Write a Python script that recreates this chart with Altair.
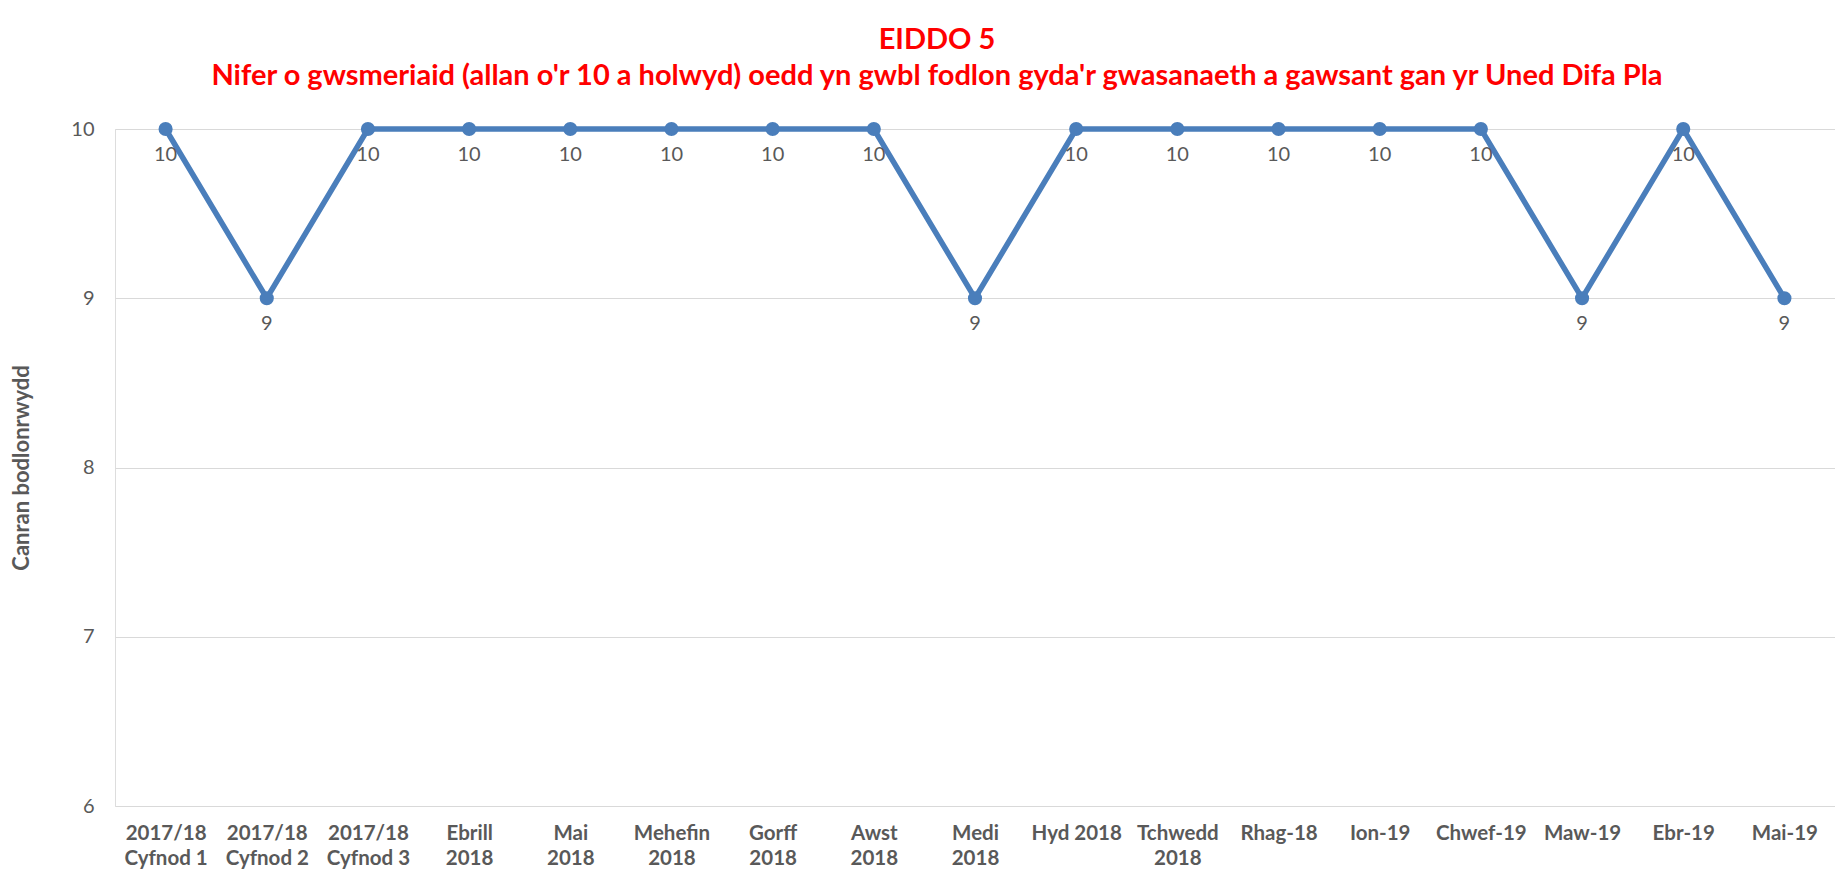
import altair as alt
import pandas as pd

categories = ["2017/18|Cyfnod 1", "2017/18|Cyfnod 2", "2017/18|Cyfnod 3", "Ebrill|2018",
              "Mai|2018", "Mehefin|2018", "Gorff|2018", "Awst|2018", "Medi|2018",
              "Hyd 2018", "Tchwedd|2018", "Rhag-18", "Ion-19", "Chwef-19", "Maw-19",
              "Ebr-19", "Mai-19"]
values = [10, 9, 10, 10, 10, 10, 10, 10, 9, 10, 10, 10, 10, 10, 9, 10, 9]
y_ticks = [6, 7, 8, 9, 10]
title_lines = ["EIDDO 5",
               "Nifer o gwsmeriaid (allan o'r 10 a holwyd) oedd yn gwbl fodlon gyda'r gwasanaeth a gawsant gan yr Uned Difa Pla"]
y_title = "Canran bodlonrwydd"

df = pd.DataFrame({"cat": categories, "val": values})

FONT = "Lato"
BLUE = "#4A7EBB"

x_enc = alt.X("cat:N", sort=categories,
              scale=alt.Scale(type="point", padding=0.5),
              axis=alt.Axis(title=None, labelExpr="split(datum.label, '|')",
                            labelAngle=0, labelFont=FONT, labelFontSize=20.5,
                            labelFontWeight="bold", labelColor="#595959",
                            labelLineHeight=25, labelPadding=17,
                            domain=False, ticks=False, grid=False,
                            labelBaseline="top"))
y_enc = alt.Y("val:Q", scale=alt.Scale(domain=[6, 10], nice=False, zero=False),
              axis=alt.Axis(title=y_title, values=y_ticks, format="d",
                            labelFont=FONT, labelFontSize=20, labelColor="#595959",
                            labelPadding=21, titleFont=FONT, titleFontSize=22,
                            titleFontWeight="bold", titleColor="#595959",
                            titlePadding=37, domain=False, ticks=False,
                            grid=True, gridColor="#D9D9D9", gridWidth=1.2))

base = alt.Chart(df)

line = base.mark_line(color=BLUE, strokeWidth=5.5).encode(x=x_enc, y=y_enc)
points = base.mark_point(filled=True, color=BLUE, size=200, opacity=1).encode(x=x_enc, y=y_enc)
labels = base.mark_text(font=FONT, fontSize=20, color="#595959", dy=26).encode(
    x=x_enc, y=y_enc, text=alt.Text("val:Q", format="d"))

chart = alt.layer(line, points, labels).properties(
    width=1720, height=677,
    autosize=alt.AutoSizeParams(type="none"),
    padding={"left": 107, "top": 121, "right": 0, "bottom": 63},
    title=alt.TitleParams(text=title_lines, color="#FF0000", font=FONT,
                          fontSize=29, fontWeight="bold", lineHeight=36,
                          anchor="middle", offset=27, dx=-38),
).configure_view(stroke=None).configure(background="white")

chart.save("out.html", embed_options={"renderer": "svg", "actions": False})
